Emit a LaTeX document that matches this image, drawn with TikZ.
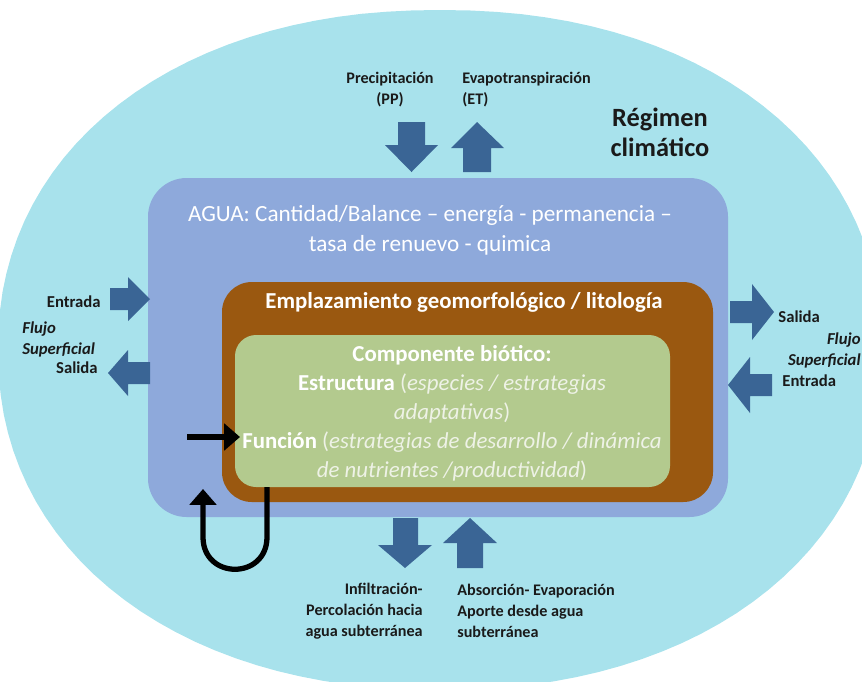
\documentclass[tikz,border=0pt]{standalone}
\usepackage{fontspec}
\setmainfont{Carlito}
\usetikzlibrary{arrows.meta}
\definecolor{cielo}{HTML}{A8E2EC}
\definecolor{agua}{HTML}{8EA9DB}
\definecolor{suelo}{HTML}{9A5810}
\definecolor{biota}{HTML}{B3CA8E}
\definecolor{flecha}{HTML}{3A6595}
\definecolor{tenue}{HTML}{EEF2E6}
\definecolor{tinta}{HTML}{1A1A1A}
\begin{document}
\begin{tikzpicture}[x=0.02cm,y=-0.02cm,
  lbl/.style={font=\bfseries\fontsize{9.2}{12}\selectfont,text=tinta,inner sep=0},
  lado/.style={lbl,font=\bfseries\fontsize{9.5}{12}\selectfont},
  caja/.style={text=white,inner sep=0,align=center},
  negra/.style={line width=3pt,-{Triangle[width=15pt,length=9pt]}}]
\useasboundingbox (0,0) rectangle (862,681);
\clip (0,0) rectangle (862,681);
% fondo: regimen climatico
\fill[cielo] plot[domain=1:361,samples=120,variable=\t]
  ({440+442*sign(cos(\t))*abs(cos(\t))^(2/2.15)},{350+340*sign(sin(\t))*abs(sin(\t))^(2/2.15)}) -- cycle;
\fill[agua,rounded corners=22pt] (148,178) rectangle (728,517);
\fill[suelo,rounded corners=17pt] (222,282) rectangle (713,502);
\fill[biota,rounded corners=12pt] (235,335) rectangle (670,487);
% textos de las cajas
\node[caja,font=\fontsize{13.2}{17}\selectfont] (agua) at (430,230) {AGUA: Cantidad/Balance -- energía - permanencia --\\tasa de renuevo - quimica};
\node[caja,font=\bfseries\fontsize{13}{15}\selectfont] (suelo) at (464,302) {Emplazamiento geomorfológico / litología};
\node[caja,font=\fontsize{13}{16.5}\selectfont] (biota) at (452,413) {\textbf{Componente biótico:}\\
  \textbf{Estructura} {\color{tenue}(\textit{especies / estrategias}}\\
  {\color{tenue}\textit{adaptativas})}\\
  \textbf{Función} {\color{tenue}(\textit{estrategias de desarrollo / dinámica}}\\
  {\color{tenue}\textit{de nutrientes /productividad})}};
\node[lbl,font=\bfseries\fontsize{15}{17}\selectfont,align=center] (clima) at (660,132) {Régimen\\climático};
% flechas verticales
\fill[flecha] (398,122)--(425,122)--(425,145)--(438,145)--(411.5,172)--(385,145)--(398,145)--cycle;
\fill[flecha] (477,122)--(504,148)--(491,148)--(491,172)--(463,172)--(463,148)--(451,148)--cycle;
\fill[flecha] (393,518)--(418,518)--(418,545)--(432,545)--(405,568)--(378,545)--(393,545)--cycle;
\fill[flecha] (470,518)--(497,543)--(483,543)--(483,568)--(457,568)--(457,543)--(443,543)--cycle;
% flechas laterales
\fill[flecha] (110,288)--(128,288)--(128,277)--(150,299)--(128,321)--(128,310)--(110,310)--cycle;
\fill[flecha] (108,373)--(128,350)--(128,362)--(150,362)--(150,384)--(128,384)--(128,396)--cycle;
\fill[flecha] (730,301)--(752,301)--(752,284)--(774,312)--(752,340)--(752,323)--(730,323)--cycle;
\fill[flecha] (728,385)--(750,357)--(750,374)--(772,374)--(772,396)--(750,396)--(750,413)--cycle;
% etiquetas
\node[lbl,align=center] (pp) at (390,90) {Precipitación\\(PP)};
\node[lbl,align=left,anchor=west] (et) at (462,90) {Evapotranspiración\\(ET)};
\node[lbl,align=right,anchor=east] (inf) at (423,611) {Infiltración-\\Percolación hacia\\agua subterránea};
\node[lbl,align=left,anchor=west] (abs) at (457,611) {Absorción- Evaporación\\Aporte desde agua\\subterránea};
\node[lado,anchor=east] (ent1) at (101,302) {Entrada};
\node[lado,anchor=west,align=left,font=\bfseries\itshape\fontsize{9.5}{12}\selectfont] (fs1) at (22,339) {Flujo\\Superficial};
\node[lado,anchor=east] (sal1) at (98,368) {Salida};
\node[lado,anchor=west] (sal2) at (778,317) {Salida};
\node[lado,anchor=east,align=right,font=\bfseries\itshape\fontsize{9.5}{12}\selectfont] (fs2) at (861,350) {Flujo\\Superficial};
\node[lado,anchor=west] (ent2) at (782,381) {Entrada};
% flechas negras
\coordinate (fin) at (187,437);
\coordinate (fout) at (240,437);
\draw[negra] (fin) -- (fout);
\coordinate (lazoA) at (267,487);
\coordinate (lazoB) at (203,489);
\draw[negra] (lazoA) -- (267,537) .. controls (267,580) and (203,580) .. (203,537) -- (lazoB);
\end{tikzpicture}
\end{document}
